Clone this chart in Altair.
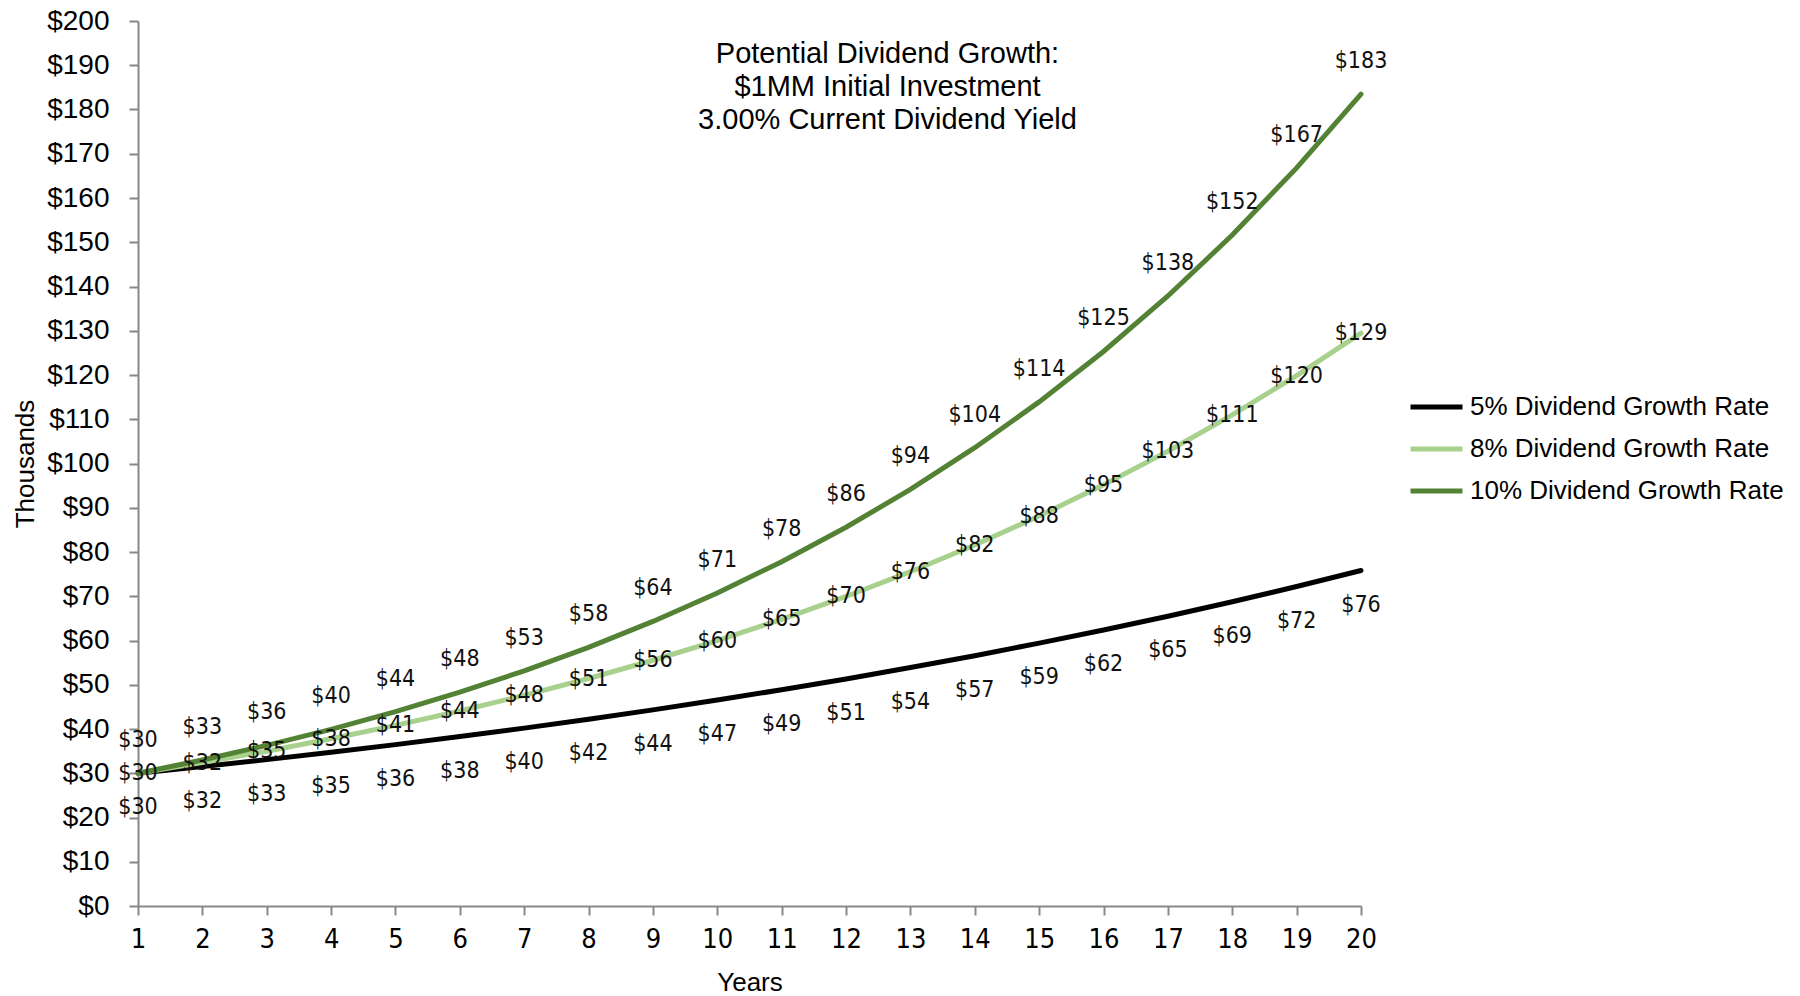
import altair as alt
import pandas as pd

years = list(range(1, 21))
series_names = ["5% Dividend Growth Rate", "8% Dividend Growth Rate", "10% Dividend Growth Rate"]
rate5 = [30.0, 31.5, 33.08, 34.73, 36.47, 38.29, 40.2, 42.21, 44.32, 46.54,
         48.87, 51.31, 53.88, 56.57, 59.4, 62.37, 65.49, 68.76, 72.2, 75.81]
rate8 = [30.0, 32.4, 34.99, 37.79, 40.81, 44.08, 47.61, 51.41, 55.53, 59.97,
         64.77, 69.95, 75.55, 81.59, 88.12, 95.17, 102.78, 111.0, 119.88, 129.47]
rate10 = [30.0, 33.0, 36.3, 39.93, 43.92, 48.32, 53.15, 58.46, 64.31, 70.74,
          77.81, 85.59, 94.15, 103.57, 113.92, 125.32, 137.85, 151.63, 166.8, 183.47]
colors = ["#000000", "#a9d18e", "#548235"]
label_dy = [34, 0, -33]

NARROW = "DejaVu Sans Condensed, Liberation Sans Narrow, Liberation Sans"

rows = []
for name, vals, dy in zip(series_names, [rate5, rate8, rate10], label_dy):
    for yr, v in zip(years, vals):
        rows.append({"Year": yr, "Value": v, "Series": name, "dy": dy})
df = pd.DataFrame(rows)

x_enc = alt.X("Year:Q",
              scale=alt.Scale(domain=[1, 20], nice=False, zero=False),
              axis=alt.Axis(title="Years", values=years, format="d", grid=False,
                            labelFlush=False, labelOverlap=False,
                            domainColor="#888888", domainWidth=2, tickColor="#888888",
                            tickWidth=2, tickSize=9, labelFont=NARROW,
                            labelFontSize=27, labelColor="#000000", labelPadding=11,
                            titleFont="Liberation Sans", titleFontSize=26,
                            titleFontWeight="normal", titleColor="#000000",
                            titlePadding=17))
y_enc = alt.Y("Value:Q",
              scale=alt.Scale(domain=[0, 200], nice=False),
              axis=alt.Axis(title="Thousands", values=list(range(0, 201, 10)),
                            format="$,.0f", grid=False, labelOverlap=False,
                            domainColor="#888888", domainWidth=2, tickColor="#888888",
                            tickWidth=2, tickSize=9, labelFont="Liberation Sans",
                            labelFontSize=28, labelColor="#000000", labelPadding=20,
                            titleFont="Liberation Sans", titleFontSize=26,
                            titleFontWeight="normal", titleColor="#000000",
                            titlePadding=8))
color_enc = alt.Color("Series:N",
                      scale=alt.Scale(domain=series_names, range=colors),
                      legend=alt.Legend(title=None, orient="none", legendX=1305, legendY=373,
                                        symbolType="M-7,0H1", symbolSize=169,
                                        symbolStrokeWidth=5, labelFont="Liberation Sans",
                                        labelFontSize=26, labelColor="#000000",
                                        labelOffset=1, rowPadding=16, labelLimit=500))

lines = alt.Chart(df).mark_line(strokeWidth=5, strokeCap="round").encode(
    x=x_enc, y=y_enc, color=color_enc, order="Year:Q"
)

text_layers = []
for name, dy in zip(series_names, label_dy):
    t = alt.Chart(df).transform_filter(alt.datum.Series == name).mark_text(
        font=NARROW, fontSize=23, color="#111111", dy=dy
    ).encode(x="Year:Q", y="Value:Q", text=alt.Text("Value:Q", format="$,.0f"))
    text_layers.append(t)

chart = alt.layer(lines, *text_layers).properties(
    width=1223, height=885,
    autosize=alt.AutoSizeParams(type="none"),
    padding={"left": 138, "top": 21, "right": 439, "bottom": 90},
    title=alt.TitleParams(
        text=["Potential Dividend Growth:", "$1MM Initial Investment", "3.00% Current Dividend Yield"],
        font="Liberation Sans", fontSize=29, fontWeight="normal", color="#000000",
        anchor="middle", frame="group", baseline="top", lineHeight=33, dx=138, dy=128, offset=0
    )
).configure_view(stroke=None)

chart.save("out.html", embed_options={"renderer": "svg", "actions": False})
